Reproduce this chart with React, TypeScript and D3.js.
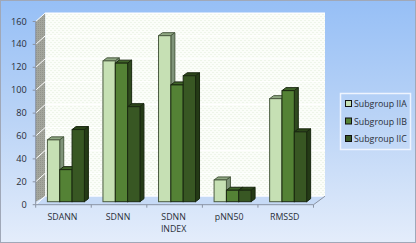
import * as d3 from "d3";
import React from "react";

const categories = ["SDANN", "SDNN", "SDNN INDEX", "pNN50", "RMSSD"];
const seriesNames = ["Subgroup IIA", "Subgroup IIB", "Subgroup IIC"];
const subgroupA = [54, 123, 145, 19, 90];
const subgroupB = [28, 121, 102, 10, 97];
const subgroupC = [63, 83, 110, 10, 61];
const yTicks = [0, 20, 40, 60, 80, 100, 120, 140, 160];

const seriesValues = [subgroupA, subgroupB, subgroupC];
const front = ["#C6E0B4", "#548235", "#385723"];
const topFace = ["#8FA882", "#3F6428", "#2B4519"];
const sideFace = ["#7F9479", "#2F4A1E", "#243A16"];

const width = 416;
const height = 243;
const font = "'Open Sans', sans-serif";
const textColor = "#2A2F38";
const depthX = 9.5;
const depthY = 8.5;
const barDepthX = 4;
const barDepthY = 3;
const barShiftY = 3;

export default function App() {
  const x = d3.scaleBand<string>().domain(categories).range([35.7, 313.5]);
  const y = d3.scaleLinear().domain([0, 160]).range([204.7, 21.5]);
  const barX = d3.scaleBand<string>().domain(seriesNames).range([0, 37]);
  const floor = y(0);
  const top = y(160);
  const right = 313.5;
  const left = 35.7;

  return (
    <svg
      width={width}
      height={height}
      viewBox={`0 0 ${width} ${height}`}
      style={{ position: "fixed", left: 0, top: 0, display: "block" }}
    >
      <defs>
        <linearGradient id="bg" x1="0" y1="0" x2="0" y2="1">
          <stop offset="0" stopColor="#96BFF6" />
          <stop offset="0.5" stopColor="#BBD4F6" />
          <stop offset="1" stopColor="#E4EDFB" />
        </linearGradient>
        <pattern id="wall" width="4" height="4" patternUnits="userSpaceOnUse">
          <rect width="4" height="4" fill="#FBFDF9" />
          <rect x="0" y="0" width="2" height="1" fill="#EEF5E9" />
          <rect x="2" y="2" width="2" height="1" fill="#EEF5E9" />
        </pattern>
        <pattern id="sidewall" width="2" height="2" patternUnits="userSpaceOnUse">
          <rect width="2" height="2" fill="#A3A59C" />
          <rect x="0" y="0" width="1" height="1" fill="#92948C" />
        </pattern>
      </defs>
      <rect width={width} height={height} fill="url(#bg)" />
      <rect x="0.5" y="0.5" width={width - 1} height={height - 1} fill="none" stroke="#A0A8B8" />

      {/* walls */}
      <path
        d={`M${left},${top}L${left + depthX},${top - depthY}L${left + depthX},${floor - depthY}L${left},${floor - 3}Z`}
        fill="url(#sidewall)"
      />
      <rect
        x={left + depthX}
        y={top - depthY}
        width={right + 2 - left}
        height={floor - top}
        fill="url(#wall)"
      />
      <path
        d={`M${left},${floor}L${left + depthX},${floor - depthY}H${right + 11.5}L${right},${floor}Z`}
        fill="#C6DAF6"
      />
      {yTicks.map((t) => (
        <g key={t}>
          <path
            d={`M${left},${y(t)}L${left + depthX},${y(t) - depthY}H${right + 11.5}`}
            fill="none"
            stroke="#FFFFFF"
            strokeWidth={1}
          />
          <line x1={left - 3} x2={left} y1={y(t)} y2={y(t)} stroke="#8A93A3" />
          <text x={left - 9} y={y(t) + 3} textAnchor="end" fontFamily={font} fontSize={9.2} fill={textColor}>
            {t}
          </text>
        </g>
      ))}

      {/* axes */}
      <line x1={left} x2={left} y1={top} y2={floor} stroke="#8A93A3" />
      <line x1={left} x2={right} y1={floor} y2={floor} stroke="#8A93A3" />
      <line x1={right} x2={right + 11.5} y1={floor} y2={floor - depthY} stroke="#8A93A3" />
      {d3.range(categories.length + 1).map((i) => {
        const tx = left + (i * (right - left)) / categories.length;
        return <line key={i} x1={tx} x2={tx} y1={floor} y2={floor + 3} stroke="#8A93A3" />;
      })}
      {categories.map((c) => {
        const words = c.split(" ");
        return (
          <text key={c} textAnchor="middle" fontFamily={font} fontSize={8.8} fill={textColor}>
            {words.map((w, i) => (
              <tspan key={w} x={(x(c) ?? 0) + x.bandwidth() / 2 - 1} y={219.5 + i * 12}>
                {w}
              </tspan>
            ))}
          </text>
        );
      })}

      {/* bars */}
      {categories.map((c, ci) => {
        const x0 = (x(c) ?? 0) + 11.7;
        return (
          <g key={c}>
            {seriesNames.map((s, si) => {
              const v = seriesValues[si][ci];
              const bx = x0 + (barX(s) ?? 0);
              const bw = barX.bandwidth();
              const base = floor - barShiftY;
              const h = floor - y(v);
              const ty = base - h;
              return (
                <g key={s} stroke={si === 0 ? "#4A5A40" : "#1A2810"} strokeWidth={1}>
                  <path
                    d={`M${bx},${ty}L${bx + barDepthX},${ty - barDepthY}H${bx + bw + barDepthX}L${bx + bw},${ty}Z`}
                    fill={topFace[si]}
                  />
                  <path
                    d={`M${bx + bw},${ty}L${bx + bw + barDepthX},${ty - barDepthY}V${base - barDepthY}L${bx + bw},${base}Z`}
                    fill={sideFace[si]}
                  />
                  <rect x={bx} y={ty} width={bw} height={h} fill={front[si]} />
                </g>
              );
            })}
          </g>
        );
      })}

      {/* legend */}
      <rect x={340.5} y={93.5} width={70} height={56} fill="none" stroke="#EEF4FE" strokeWidth={1.5} />
      {seriesNames.map((s, i) => (
        <g key={s}>
          <rect x={345.5} y={100.5 + i * 17.5} width={6} height={6} fill={front[i]} stroke="#111" />
          <text x={354} y={107 + i * 17.5} fontFamily={font} fontSize={8.8} fill={textColor}>
            {s}
          </text>
        </g>
      ))}
    </svg>
  );
}
